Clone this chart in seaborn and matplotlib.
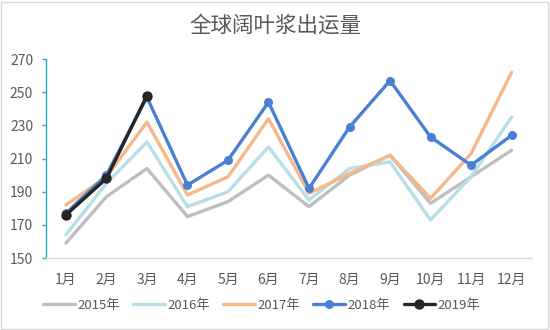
import matplotlib
matplotlib.use("Agg")
import matplotlib.pyplot as plt
from matplotlib.patches import Rectangle
import seaborn as sns
import pandas as pd

months = ["1月", "2月", "3月", "4月", "5月", "6月", "7月", "8月", "9月", "10月", "11月", "12月"]
y2015 = [159, 187, 204, 175, 184, 200, 181, 200, 212, 183, 199, 215]
y2016 = [164, 195, 220, 181, 190, 217, 185, 204, 208, 173, 199, 235]
y2017 = [182, 199, 232, 188, 199, 234, 189, 201, 212, 186, 213, 262]
y2018 = [177, 200, 247, 194, 209, 244, 192, 229, 257, 223, 206, 224]
y2019 = [176, 198, 248]
years = ["2015年", "2016年", "2017年", "2018年", "2019年"]
yticks = [150, 170, 190, 210, 230, 250, 270]

series = [y2015, y2016, y2017, y2018, y2019]
colors = ["#bfbfbf", "#b7dfe8", "#f6b889", "#4a80d2", "#262626"]
markers = [None, None, None, "o", "o"]
msizes = [0, 0, 0, 6.5, 7.5]

sns.set_theme(style="white")
plt.rcParams["font.family"] = ["Noto Sans CJK SC", "DejaVu Sans"]

fig = plt.figure(figsize=(5.5, 3.3), dpi=100)
ax = fig.add_axes([0.083, 0.218, 0.884, 0.603])

for name, vals, c, m, ms in zip(years, series, colors, markers, msizes):
    df = pd.DataFrame({"x": range(len(vals)), "v": vals})
    sns.lineplot(data=df, x="x", y="v", ax=ax, color=c, linewidth=2.4,
                 marker=m, markersize=ms, markeredgewidth=0, label=name,
                 sort=False)

ax.set_xlim(-0.5, 11.5)
ax.set_ylim(150, 270)
ax.set_yticks(yticks)
ax.set_xticks(range(len(months)))
ax.set_xticklabels(months)
ax.set_xlabel("")
ax.set_ylabel("")

for side in ["top", "right"]:
    ax.spines[side].set_visible(False)
ax.spines["left"].set_color("#2fa8c8")
ax.spines["left"].set_linewidth(1.0)
ax.spines["bottom"].set_color("#d9d9d9")
ax.spines["bottom"].set_linewidth(1.0)
ax.tick_params(axis="y", which="both", left=True, length=3, width=1.0,
               color="#2fa8c8", labelsize=10, labelcolor="#595959", pad=6)
ax.tick_params(axis="x", bottom=False, labelsize=10, labelcolor="#595959", pad=5)

fig.text(0.5, 0.921, "全球阔叶浆出运量", fontsize=15.5, color="#595959",
         ha="center", va="center")

handles, labels = ax.get_legend_handles_labels()
ax.legend_.remove()
fig.legend(handles, labels, loc="center", bbox_to_anchor=(0.476, 0.075), ncol=5,
           frameon=False, fontsize=9.5, handlelength=2.4, handletextpad=0.2,
           columnspacing=1.0, labelcolor="#595959")

fig.patches.append(Rectangle((0.002, 0.003), 0.994, 0.992, transform=fig.transFigure,
                             fill=False, edgecolor="#d9d9d9", linewidth=1.0))

fig.savefig("out.png", dpi=100)
